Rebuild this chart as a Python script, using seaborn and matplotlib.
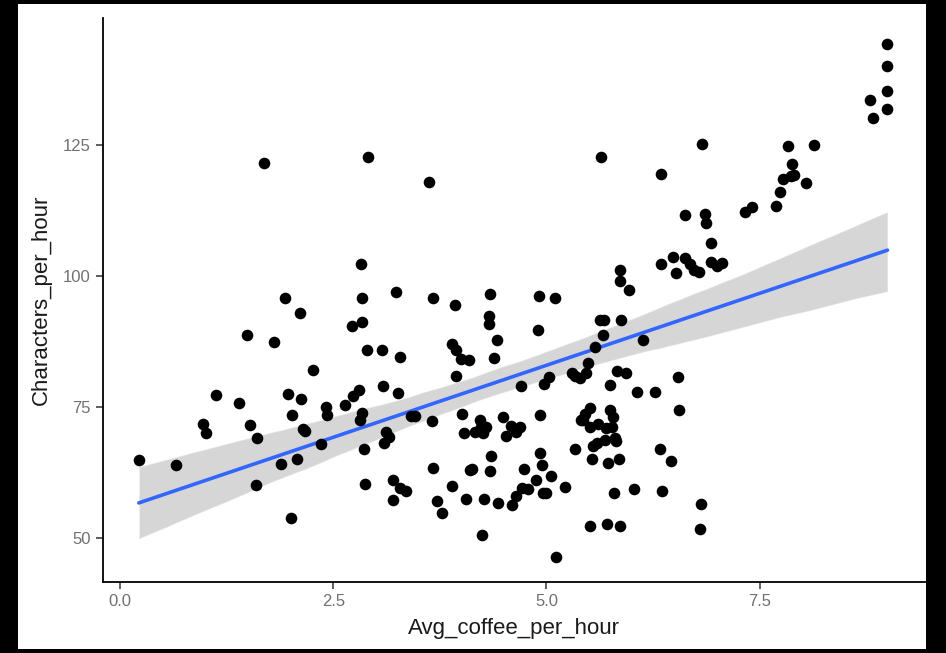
import numpy as np
import pandas as pd
import matplotlib
matplotlib.use("Agg")
import matplotlib.pyplot as plt
from matplotlib.patches import Rectangle
from matplotlib.collections import PolyCollection
import seaborn as sns

# ------------------------------
# Data
# ------------------------------
avg_coffee = [
    0.22, 0.66, 0.97, 1.01, 1.13, 1.39, 1.49, 1.52, 1.61, 1.59,
    1.69, 1.81, 1.89, 1.93, 1.97, 2.00, 2.02, 2.08, 2.11, 2.12,
    2.14, 2.17, 2.26, 2.36, 2.42, 2.43, 2.64, 2.72, 2.73, 2.80,
    2.83, 2.84, 2.84, 2.81, 2.84, 2.86, 2.87, 2.90, 2.91, 3.07,
    3.08, 3.09, 3.12, 3.15, 3.20, 3.20, 3.24, 3.26, 3.28, 3.28,
    3.35, 3.41, 3.46, 3.62, 3.67, 3.66, 3.67, 3.72, 3.77, 3.89,
    3.89, 3.93, 3.94, 3.94, 4.00, 4.01, 4.03, 4.06, 4.09, 4.10,
    4.13, 4.16, 4.22, 4.23, 4.26, 4.27, 4.24, 4.29, 4.33, 4.33,
    4.34, 4.34, 4.35, 4.39, 4.42, 4.43, 4.49, 4.53, 4.58, 4.60,
    4.64, 4.64, 4.69, 4.70, 4.71, 4.74, 4.78, 4.88, 4.90, 4.91,
    4.92, 4.93, 4.95, 4.96, 4.97, 5.00, 5.03, 5.05, 5.10, 5.11,
    5.22, 5.30, 5.33, 5.33, 5.39, 5.40, 5.43, 5.45, 5.47, 5.49,
    5.51, 5.51, 5.51, 5.53, 5.55, 5.57, 5.59, 5.60, 5.63, 5.64,
    5.66, 5.67, 5.70, 5.69, 5.71, 5.72, 5.74, 5.75, 5.77, 5.78,
    5.79, 5.80, 5.83, 5.82, 5.85, 5.86, 5.86, 5.86, 5.88, 5.93,
    5.97, 6.03, 6.06, 6.13, 6.27, 6.33, 6.34, 6.34, 6.35, 6.46,
    6.48, 6.52, 6.54, 6.56, 6.62, 6.63, 6.68, 6.73, 6.79, 6.81,
    6.80, 6.82, 6.86, 6.87, 6.93, 6.93, 7.00, 7.06, 7.33, 7.41,
    7.69, 7.74, 7.78, 7.83, 7.87, 7.88, 7.90, 8.04, 8.14, 8.79,
    8.83, 8.99, 9.00, 9.00, 9.00,
]
chars_per_hour = [
    64.9, 63.9, 71.8, 70.1, 77.3, 75.8, 88.7, 71.6, 69.1, 60.1,
    121.6, 87.4, 64.1, 95.8, 77.5, 53.8, 73.5, 65.1, 92.9, 76.5,
    70.8, 70.5, 82.1, 67.9, 75.0, 73.5, 75.4, 90.5, 77.1, 78.2,
    102.3, 91.2, 95.8, 72.5, 73.9, 67.0, 60.3, 85.9, 122.7, 85.9,
    79.0, 68.1, 70.2, 69.3, 61.1, 57.3, 96.9, 77.7, 84.5, 59.5,
    59.0, 73.3, 73.3, 117.9, 95.8, 72.3, 63.4, 57.1, 54.8, 59.9,
    87.0, 94.5, 85.9, 80.9, 84.2, 73.7, 70.0, 57.4, 84.0, 63.0,
    63.2, 70.2, 72.5, 71.2, 70.0, 57.4, 50.6, 71.2, 90.8, 92.4,
    96.6, 62.8, 65.6, 84.4, 87.8, 56.7, 73.1, 69.5, 71.4, 56.3,
    58.0, 70.2, 71.2, 79.0, 59.5, 63.2, 59.4, 61.1, 89.7, 96.2,
    73.5, 66.2, 63.9, 58.6, 79.4, 58.6, 80.7, 61.8, 95.8, 46.4,
    59.7, 81.5, 67.0, 80.9, 80.5, 72.5, 72.5, 73.7, 81.5, 83.4,
    71.2, 52.3, 74.8, 65.1, 67.6, 86.5, 68.1, 71.8, 91.6, 122.7,
    88.7, 91.6, 71.0, 68.7, 52.7, 64.3, 74.4, 79.2, 71.2, 73.1,
    58.6, 69.1, 81.9, 68.5, 65.1, 101.1, 99.0, 52.3, 91.6, 81.5,
    97.3, 59.4, 77.9, 87.8, 77.9, 67.0, 119.5, 102.3, 59.0, 64.7,
    103.6, 100.6, 80.7, 74.4, 111.6, 103.4, 102.3, 101.1, 100.8, 56.5,
    51.7, 125.2, 111.8, 110.1, 106.3, 102.7, 101.9, 102.5, 112.2, 113.2,
    113.4, 116.0, 118.5, 124.8, 119.1, 121.4, 119.3, 117.7, 125.0, 133.6,
    130.2, 144.3, 140.1, 135.3, 131.9,
]

df = pd.DataFrame({"Avg_coffee_per_hour": avg_coffee,
                   "Characters_per_hour": chars_per_hour})

# ------------------------------
# Plot (ggplot theme_classic look)
# ------------------------------
sns.set_theme(style="white")
plt.rcParams["font.family"] = ["Liberation Sans", "DejaVu Sans"]

fig = plt.figure(figsize=(9.46, 6.53), dpi=100)
fig.patch.set_facecolor("black")
# white panel inside the black frame (behind the axes)
fig.patches.append(Rectangle((18 / 946, 4 / 653), 908 / 946, 645 / 653,
                             transform=fig.transFigure, facecolor="white",
                             edgecolor="none", zorder=-10))

ax = fig.add_axes([103 / 946, 71 / 653, 822 / 946, 564 / 653])
ax.set_facecolor("white")

sns.regplot(data=df, x="Avg_coffee_per_hour", y="Characters_per_hour",
            scatter=False, ci=95, seed=3, ax=ax,
            line_kws={"color": "#3366FF", "linewidth": 2.6, "zorder": 3})

# grey confidence band like geom_smooth
for coll in ax.collections:
    if isinstance(coll, PolyCollection):
        coll.set_facecolor("#999999")
        coll.set_alpha(0.4)
        coll.set_zorder(2)

sns.scatterplot(data=df, x="Avg_coffee_per_hour", y="Characters_per_hour",
                color="black", s=70, linewidth=0, ax=ax, zorder=4)

ax.set_xlim(-0.2, 9.44)
ax.set_ylim(41.6, 149.2)
ax.set_xticks([0.0, 2.5, 5.0, 7.5])
ax.set_xticklabels(["0.0", "2.5", "5.0", "7.5"])
ax.set_yticks([50, 75, 100, 125])

for side in ["top", "right"]:
    ax.spines[side].set_visible(False)
for side in ["left", "bottom"]:
    ax.spines[side].set_color("black")
    ax.spines[side].set_linewidth(1.3)

ax.tick_params(axis="both", which="major", length=5, width=1.1,
               color="#333333", labelcolor="#707070", labelsize=12,
               direction="out", bottom=True, left=True, pad=4)
ax.set_xlabel("Avg_coffee_per_hour", fontsize=16, color="#1a1a1a", labelpad=6)
ax.set_ylabel("Characters_per_hour", fontsize=16, color="#1a1a1a", labelpad=8)

fig.savefig("out.png", dpi=100, facecolor=fig.get_facecolor())
